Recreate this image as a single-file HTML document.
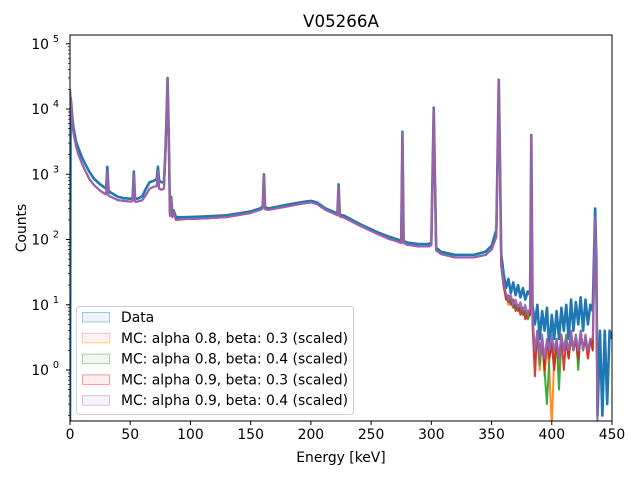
<!DOCTYPE html>
<html><head><meta charset="utf-8"><style>
body{margin:0;background:#fff;font-family:"Liberation Sans","DejaVu Sans",sans-serif}
svg text{font-family:"DejaVu Sans","Liberation Sans",sans-serif;fill:#000}
</style></head><body>
<svg id="chart" width="640" height="480" viewBox="0 0 640 480" xmlns="http://www.w3.org/2000/svg">
<rect width="640" height="480" fill="#fff"/>
<defs><clipPath id="clip"><rect x="70" y="35" width="542" height="386"/></clipPath></defs>
<g id="series" clip-path="url(#clip)"></g>
<rect x="70" y="35" width="542" height="386" fill="none" stroke="#000" stroke-width="1"/>
<g id="axes"></g>
<text x="341" y="27" font-size="16.7" text-anchor="middle">V05266A</text>
<text x="341" y="462" font-size="13.9" text-anchor="middle">Energy [keV]</text>
<text x="26" y="228" font-size="13.9" text-anchor="middle" transform="rotate(-90 26 228)">Counts</text>
<g id="legend"></g>
</svg>
<script>
const mainE=[0,0.5,1,2,3,5,7,10,13,16,20,25,29,30,31,32,34,40,45,50,52,53,54,56,60,63,66,70,72,73,74,76,78,79,80,81,82,83,84,85,86,88,95,110,130,150,158,160,161,162,165,180,195,200,205,212,220,222,223,224,228,240,255,265,272,275,276,277,280,290,298,300,302,304,308,320,335,345,350,354,355,356,357,358];
const tailE=[360,362,364,366,368,370,372,374,376,378,380,382,383,384,386,388,390,392,394,396,398,400,402,404,406,408,410,412,414,416,418,420,422,424,426,428,430,432,434,436,437,438,440,442,444,446,448,450];
const dataMain=[0.1,15000,12000,7000,5000,3200,2500,1800,1400,1100,850,700,620,600,1300,560,520,450,430,420,440,1100,430,420,460,600,750,800,850,1300,800,750,760,1800,6000,30000,4000,260,450,240,280,220,220,225,235,270,300,320,1000,310,300,340,380,390,370,300,260,250,700,240,230,175,130,110,100,95,4500,95,90,85,85,90,10500,75,65,58,58,65,80,140,2000,28000,1500,60];
const dataTail=[30,18,25,15,22,14,20,13,18,12,16,14,4000,10,5,10,3,8,4,9,2,7,3,8,3,9,4,10,3,12,4,11,5,13,4,12,5,10,8,300,50,0.2,4,0.2,4,0.3,4,3];
const mcMain=[20000,14000,10000,6000,4200,2700,2000,1450,1100,850,680,560,500,490,1100,470,450,400,390,380,390,1000,380,380,400,480,600,650,650,1100,600,580,600,1600,5500,29000,3500,230,420,220,260,200,205,210,220,255,285,300,950,290,285,320,360,370,350,285,245,235,650,225,215,165,122,102,93,88,4300,88,83,78,78,82,10000,68,60,53,53,58,70,110,1800,27000,1400,40];
const mcTail1=[20,14,10,13,9,11,8,10,7,9,6,8,4000,6,1.5,4,1,3,0.8,2.5,1,0.1,1.5,3,1,3.5,2,3,1.5,4,2,3,1.2,4,2,3.5,1.5,3,2.5,200,20,0.1,0.1,0.1,0.1,0.1,0.1,0.1];
const mcTail2=[19,13,11,12,9,10,8,9,7,8,6,7,4000,5,2,3.5,1.2,3,1,0.3,1.5,3,1,3,0.5,3,2,3.5,1.5,3,2,3.5,1,4,2,3,2,3,2,200,18,0.1,0.1,0.1,0.1,0.1,0.1,0.1];
const mcTail3=[20,12,14,10,12,8,10,7,9,6,8,7,4000,5,0.8,4,2,3,1,3,1.5,2.5,1,3,1.5,3.5,1,3,1.5,4,2,3,1.5,4,2,3,1.5,3,2,200,15,0.1,0.1,0.1,0.1,0.1,0.1,0.1];
const mcTail4=[22,15,12,14,10,12,9,11,8,10,7,9,4000,7,2,4,1.5,3.5,1.5,3,2,3.5,2,3,1.5,3.5,2,3,2,4,2,3.5,2,4,2,3.5,2,3,3,220,20,0.1,0.1,0.1,0.1,0.1,0.1,0.1];
const seriesLabels=["Data","MC: alpha 0.8, beta: 0.3 (scaled)","MC: alpha 0.8, beta: 0.4 (scaled)","MC: alpha 0.9, beta: 0.3 (scaled)","MC: alpha 0.9, beta: 0.4 (scaled)"];
const xTicks=[0,50,100,150,200,250,300,350,400,450];
const yTicks=[0,1,2,3,4,5];

const NS="http://www.w3.org/2000/svg";
const X0=70,X1=612,Y0=35,Y1=421,XMAX=450;
function xs(e){return X0+e*(X1-X0)/XMAX;}
function ys(v){let y=370-65.25*Math.log10(Math.max(v,1e-3));return Math.min(y,Y1+5);}
function mk(t,a,p){const el=document.createElementNS(NS,t);for(const k in a)el.setAttribute(k,a[k]);p.appendChild(el);return el;}
const colors=["#1f77b4","#ff7f0e","#2ca02c","#d62728","#9467bd"];
const sData=[dataMain.concat(dataTail),mcMain.concat(mcTail1),mcMain.concat(mcTail2),mcMain.concat(mcTail3),mcMain.concat(mcTail4)];
const E=mainE.concat(tailE);
const sg=document.getElementById('series');
const names=['series-data','series-mc-a08-b03','series-mc-a08-b04','series-mc-a09-b03','series-mc-a09-b04'];
sData.forEach((vals,i)=>{
  let d='';
  vals.forEach((v,j)=>{d+=(j?'L':'M')+xs(E[j]).toFixed(2)+','+ys(v).toFixed(2);});
  const p=mk('path',{d:d,fill:'none',stroke:colors[i],'stroke-width':i==0?2.6:2,'stroke-linejoin':'round','stroke-opacity':i==0?1:0.9},sg);
  
  
});
const ax=document.getElementById('axes');
xTicks.forEach(t=>{
  const l=mk('line',{x1:xs(t),x2:xs(t),y1:Y1,y2:Y1+4,stroke:'#000'},ax);
  
  
  const tx=mk('text',{x:xs(t),y:Y1+18,'font-size':13.9,'text-anchor':'middle'},ax);
  tx.textContent=t;
  
  
});
yTicks.forEach(k=>{
  const y=ys(Math.pow(10,k));
  const l=mk('line',{x1:X0-4,x2:X0,y1:y,y2:y,stroke:'#000'},ax);
  
  
  const tx=mk('text',{x:X0-21,y:y+5,'font-size':13.9,'text-anchor':'end'},ax);
  tx.textContent='10';
  
  
  const sp=mk('text',{x:X0-14,y:y-2,'font-size':9.7,'text-anchor':'middle'},ax);
  sp.textContent=String(k);
  
  
  for(let m=2;m<10;m++){
    const yy=ys(m*Math.pow(10,k));
    if(yy>Y0&&yy<Y1){const ml=mk('line',{x1:X0-2,x2:X0,y1:yy,y2:yy,stroke:'#000','stroke-width':0.7},ax);
    
    }
  }
});
[0.2,0.3,0.4,0.5,0.6,0.7,0.8,0.9].forEach(v=>{const yy=ys(v);if(yy<Y1){const ml=mk('line',{x1:X0-2,x2:X0,y1:yy,y2:yy,stroke:'#000','stroke-width':0.7},ax);

}});
const lg=document.getElementById('legend');
mk('rect',{x:76.5,y:306.5,width:277,height:108,rx:3,fill:'#fff','fill-opacity':0.8,stroke:'#d0d0d0'},lg);
seriesLabels.forEach((s,i)=>{
  const y=312+i*20.8;
  const r=mk('rect',{x:82.5,y:y+0.5,width:27,height:9.5,fill:colors[i],'fill-opacity':0.08,stroke:colors[i],'stroke-opacity':0.5,'stroke-width':0.8},lg);
  
  
  const t=mk('text',{x:121,y:y+10,'font-size':13.9},lg);
  t.textContent=s;
  
  
});
</script>
</body></html>
